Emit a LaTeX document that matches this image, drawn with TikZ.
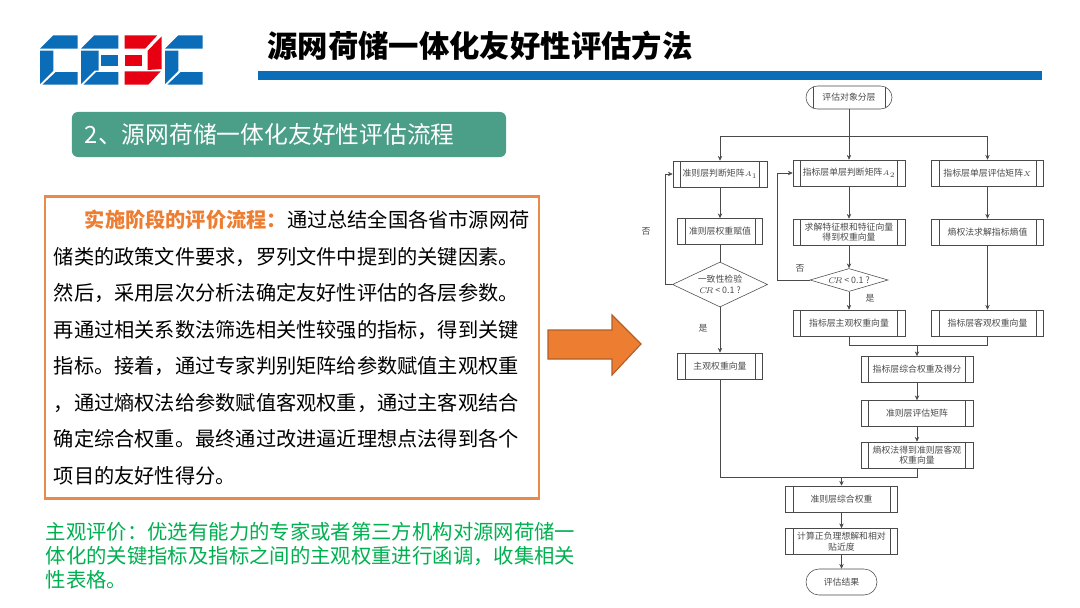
\documentclass[tikz,border=0pt]{standalone}
\usepackage{fontspec}
\setmainfont{Noto Sans CJK SC}
\usetikzlibrary{arrows.meta,positioning,calc,shapes.geometric,shapes.misc}
\definecolor{ceblue}{HTML}{0B6DB8}
\definecolor{cered}{HTML}{E60012}
\definecolor{headgreen}{HTML}{4B9E87}
\definecolor{boxorange}{HTML}{E98A4A}
\definecolor{arrorange}{HTML}{ED7D31}
\definecolor{txtgreen}{HTML}{00B050}
\definecolor{flowgray}{HTML}{4A4A4A}
\tikzset{
  box/.style={draw=flowgray, rectangle, align=center, inner sep=0pt, minimum height=6.5mm, minimum width=2.8cm, text=flowgray, font=\fontsize{6.3}{7.6}\selectfont,
    path picture={\draw[flowgray] ([xshift=1.9mm]path picture bounding box.north west) -- ([xshift=1.9mm]path picture bounding box.south west);
      \draw[flowgray] ([xshift=-1.9mm]path picture bounding box.north east) -- ([xshift=-1.9mm]path picture bounding box.south east);}},
  term/.style={draw=flowgray, rounded rectangle, inner sep=0pt, text=flowgray, font=\fontsize{6.3}{7.6}\selectfont},
  dec/.style={draw=flowgray, diamond, align=center, inner sep=0pt, text=flowgray, font=\fontsize{6.3}{7.6}\selectfont},
  arr/.style={-{Stealth[length=1.2mm,width=1.1mm]}, draw=flowgray},
  lin/.style={draw=flowgray},
  lab/.style={text=flowgray, inner sep=0pt, font=\fontsize{6.3}{7.6}\selectfont},
}
\begin{document}
\begin{tikzpicture}[x=0.025cm,y=-0.025cm]
\useasboundingbox (0,0) rectangle (1080,607);
\foreach \dx in {0,125}{
  \fill[ceblue,shift={(\dx,0)}] (40,48.7) -- (53.3,35.3) -- (77.7,35.3) -- (77.7,48.7) -- cycle;
  \fill[ceblue,shift={(\dx,0)}] (40,50.7) -- (53.3,50.7) -- (53.3,70.7) -- (40,84) -- cycle;
  \fill[ceblue,shift={(\dx,0)}] (42.3,84.7) -- (55.7,72) -- (77.7,72) -- (77.7,84.7) -- cycle;
}
\fill[ceblue] (81,48.7) -- (94.3,35.3) -- (118.3,35.3) -- (118.3,48.7) -- cycle;
\fill[ceblue] (81,50.7) -- (98.5,50.7) -- (98.5,70.7) -- (94.3,70.7) -- (81,84) -- cycle;
\fill[ceblue] (101,54.7) rectangle (118.3,66.3);
\fill[ceblue] (83.3,84.7) -- (96,72) -- (118.3,72) -- (118.3,84.7) -- cycle;
\fill[cered] (124.7,48.7) -- (124.7,35.3) -- (157.3,35.3) -- (145,48.7) -- cycle;
\fill[cered] (124.7,54.7) rectangle (141.7,66.3);
\fill[cered] (147.7,50.7) -- (161.7,36.3) -- (161.7,69) -- (147.7,70) -- cycle;
\fill[cered] (124.7,71.3) -- (160.7,71.3) -- (148.3,84.7) -- (124.7,84.7) -- cycle;
\node[anchor=west, inner sep=0pt, font=\fontsize{21.6}{26}\selectfont\bfseries] (title) at (267,46) {源网荷储一体化友好性评估方法};
\fill[ceblue] (258,71) rectangle (1042,80);
\node[fill=headgreen, rounded corners=1.5mm, text=white, minimum width=10.85cm, minimum height=1.125cm, text width=10.2cm, inner xsep=0.325cm, inner ysep=0pt, align=left, font=\fontsize{16.9}{20}\selectfont] (head) at (289,134.5) {2、源网荷储一体化友好性评估流程};
\node[draw=boxorange, line width=1.5pt, minimum width=12.35cm, minimum height=7.55cm, text width=11.9cm, inner xsep=0.225cm, inner ysep=0pt, align=left, font=\fontsize{14.37}{25.96}\selectfont] (proc) at (292,347.5) {\hspace*{0.775cm}{\bfseries\color{arrorange}实施阶段的评价流程：}通过总结全国各省市源网荷\\储类的政策文件要求，罗列文件中提到的关键因素。\\然后，采用层次分析法确定友好性评估的各层参数。\\再通过相关系数法筛选相关性较强的指标，得到关键\\指标。接着，通过专家判别矩阵给参数赋值主观权重\\，通过熵权法给参数赋值客观权重，通过主客观结合\\确定综合权重。最终通过改进逼近理想点法得到各个\\项目的友好性得分。};
\node[anchor=north west, inner sep=0pt, text=txtgreen, align=left, font=\fontsize{14.48}{17.4}\selectfont] (subj) at (45.5,521.5) {主观评价：优选有能力的专家或者第三方机构对源网荷储一\\体化的关键指标及指标之间的主观权重进行函调，收集相关\\性表格。};
\draw[fill=arrorange, draw=arrorange!75!black, line width=0.8pt] (548,330) -- (612,330) -- (612,315) -- (641,344) -- (612,375) -- (612,359) -- (548,359) -- cycle;
\node[term, minimum width=2.15cm, minimum height=5.75mm,
  path picture={\draw[flowgray] ([xshift=1.8mm]path picture bounding box.north west) -- ([xshift=1.8mm]path picture bounding box.south west);
    \draw[flowgray] ([xshift=-1.8mm]path picture bounding box.north east) -- ([xshift=-1.8mm]path picture bounding box.south east);}] (start) at (849,97.5) {评估对象分层};
\node[box, minimum width=2.35cm] (a1) at (720,174) {准则层判断矩阵$\scriptstyle A_1$};
\node[box, minimum width=2.125cm] (b1) at (720,231.5) {准则层权重赋值};
\node[dec, minimum width=2.375cm, minimum height=1.125cm, aspect=2.1] (d1) at (720,284.5) {一致性检验\\$C\!R$\ < 0.1\ ?};
\node[box, minimum width=2.125cm] (c1) at (720,366) {主观权重向量};
\node[box] (a2) at (849,173) {指标层单层判断矩阵$\scriptstyle A_2$};
\node[box] (b2) at (849,232) {求解特征根和特征向量\\得到权重向量};
\node[dec, minimum width=1.95cm, minimum height=5.75mm, aspect=3.4] (d2) at (849,280) {$C\!R$\ < 0.1\ ?};
\node[box] (c2) at (849,323) {指标层主观权重向量};
\node[box] (a3) at (987.5,173) {指标层单层评估矩阵$\scriptstyle X$};
\node[box] (b3) at (987.5,232) {熵权法求解指标熵值};
\node[box] (c3) at (987.5,323) {指标层客观权重向量};
\node[box] (e1) at (917,369.5) {指标层综合权重及得分};
\node[box] (e2) at (917,413.5) {准则层评估矩阵};
\node[box] (e3) at (917,455) {熵权法得到准则层客观\\权重向量};
\node[box] (f1) at (841.5,499) {准则层综合权重};
\node[box] (f2) at (841.5,541.5) {计算正负理想解和相对\\贴近度};
\node[term, minimum width=1.775cm, minimum height=6.5mm] (end) at (841.5,582) {评估结果};
\node[lab] (no1) at (646,231) {否};
\node[lab] (no2) at (800,268) {否};
\node[lab] (yes2) at (870,298) {是};
\node[lab] (yes1) at (703,328) {是};
\coordinate (split) at (849,136);
\coordinate (mergea) at (917,345);
\coordinate (mergeb) at (841.5,477);
\draw[arr] (start.south) -- (a2.north);
\draw[arr] (split) -| (a1.north);
\draw[arr] (split) -| (a3.north);
\draw[arr] (a1.south) -- (b1.north);
\draw[lin] (b1.south) -- (d1.north);
\draw[arr] (d1.south) -- (c1.north);
\draw[arr] (d1.west) -- ++(-7,0) |- (a1.west);
\draw[arr] (a2.south) -- (b2.north);
\draw[arr] (b2.south) -- (d2.north);
\draw[arr] (d2.south) -- (c2.north);
\draw[arr] (d2.west) -- ++(-32,0) |- (a2.west);
\draw[arr] (a3.south) -- (b3.north);
\draw[arr] (b3.south) -- (c3.north);
\draw[lin] (c2.south) |- (mergea);
\draw[lin] (c3.south) |- (mergea);
\draw[arr] (mergea) -- (e1.north);
\draw[arr] (e1.south) -- (e2.north);
\draw[arr] (e2.south) -- (e3.north);
\draw[lin] (c1.south) |- (mergeb);
\draw[lin] (e3.south) |- (mergeb);
\draw[arr] (mergeb) -- (f1.north);
\draw[arr] (f1.south) -- (f2.north);
\draw[arr] (f2.south) -- (end.north);
\end{tikzpicture}
\end{document}
